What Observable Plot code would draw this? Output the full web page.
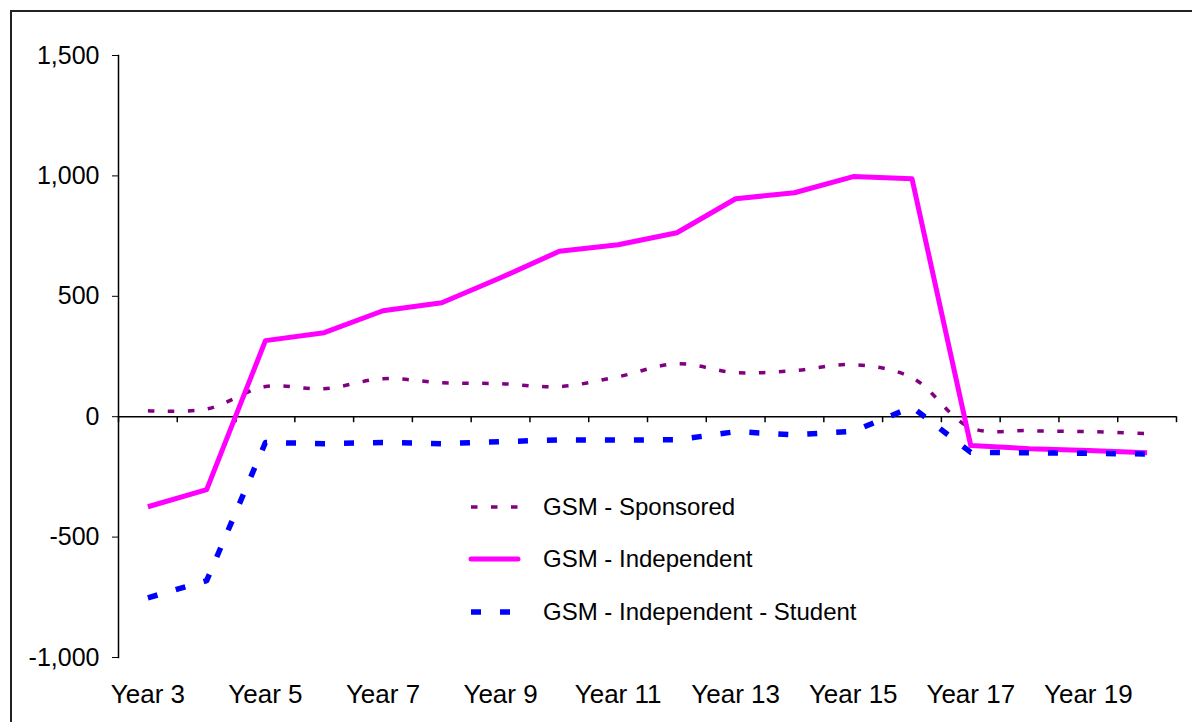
<!DOCTYPE html>
<html>
<head>
<meta charset="utf-8">
<script src="https://cdn.jsdelivr.net/npm/d3@7"></script>
<script src="https://cdn.jsdelivr.net/npm/@observablehq/plot@0.6"></script>
<style>
  html, body { margin: 0; padding: 0; background: #fff; overflow: hidden; }
  #wrap { position: relative; width: 1192px; height: 722px; overflow: hidden; font-family: Arial, "Liberation Sans", sans-serif; }
  #border { position: absolute; left: 10px; top: 10px; width: 1300px; height: 900px; border: 2px solid #222; box-sizing: border-box; pointer-events: none; }
  #chart { position: absolute; left: 0; top: 0; }
  #legend { position: absolute; left: 0; top: 0; }
</style>
</head>
<body>
<div id="wrap">
  <div id="border"></div>
  <div id="chart"></div>
  <svg id="legend" width="1192" height="722"></svg>
</div>
<script>
const categories = ["Year 3","Year 4","Year 5","Year 6","Year 7","Year 8","Year 9","Year 10","Year 11","Year 12","Year 13","Year 14","Year 15","Year 16","Year 17","Year 18","Year 19","Year 20"];
const tickLabels = ["Year 3","Year 5","Year 7","Year 9","Year 11","Year 13","Year 15","Year 17","Year 19"];
const yTicks = [-1000, -500, 0, 500, 1000, 1500];

const seriesNames = ["GSM - Sponsored", "GSM - Independent", "GSM - Independent - Student"];
const sponsored   = [25, 32, 125, 116, 158, 141, 137, 125, 166, 220, 183, 191, 216, 162, -46, -58, -62, -70];
const independent = [-374, -303, 316, 349, 440, 473, 577, 687, 714, 764, 905, 930, 997, 988, -120, -133, -140, -150];
const student     = [-752, -681, -107, -112, -107, -112, -104, -96, -97, -96, -62, -75, -61, 40, -148, -150, -152, -155];

const colors = ["#800080", "#FF00FF", "#0000FF"];
const widths = [3.5, 5, 5.5];
const dashes = ["6.5,13.5", null, "10,19"];
const curves = ["catmull-rom", "linear", "linear"];

const W = 1192, H = 722;
const mL = 118, mR = 16, mT = 55, mB = 65;
const step = (W - mL - mR) / categories.length;

const seriesData = [sponsored, independent, student].map((vals, k) =>
  categories.map((c, i) => ({ cat: c, value: vals[i], series: seriesNames[k] }))
);

const lineMarks = seriesData.map((d, k) =>
  Plot.line(d, {
    x: "cat", y: "value",
    stroke: colors[k], strokeWidth: widths[k],
    strokeDasharray: dashes[k] || undefined,
    curve: curves[k],
    strokeLinecap: "butt", strokeLinejoin: "round"
  })
);

const fmt = d => d.toLocaleString("en-US");

const plot = Plot.plot({
  width: W, height: H,
  marginLeft: mL, marginRight: mR, marginTop: mT, marginBottom: mB,
  style: { fontFamily: "Arial, 'Liberation Sans', sans-serif", fontSize: "25px", background: "transparent", color: "#000" },
  x: { type: "point", domain: categories, padding: 0.5, round: false, label: null },
  y: { domain: [-1000, 1500], label: null },
  marks: [
    Plot.axisY({ ticks: yTicks, tickSize: 6, tickPadding: 13, tickFormat: fmt, fontSize: 25, label: null, stroke: "#000" }),
    Plot.axisX({ ticks: tickLabels, tickSize: 0, tickPadding: 27, fontSize: 26, label: null }),
    Plot.frame({ anchor: "left", stroke: "#000", strokeWidth: 1.5 }),
    Plot.ruleY([0], { stroke: "#000", strokeWidth: 1.5 }),
    Plot.ruleX(categories, { x: d => d, y1: 0, y2: 0, insetBottom: -6, dx: -step / 2, stroke: "#000", strokeWidth: 1.5 }),
    Plot.ruleX([categories[categories.length - 1]], { x: d => d, y1: 0, y2: 0, insetBottom: -6, dx: step / 2, stroke: "#000", strokeWidth: 1.5 }),
    ...lineMarks
  ]
});
document.getElementById("chart").appendChild(plot);

// Legend (inside plot area, as in the reference)
const lg = d3.select("#legend");
const rows = [507, 559, 612];
seriesNames.forEach((name, k) => {
  lg.append("line")
    .attr("x1", 471).attr("x2", 518).attr("y1", rows[k]).attr("y2", rows[k])
    .attr("stroke", colors[k]).attr("stroke-width", widths[k])
    .attr("stroke-dasharray", dashes[k] || null)
    .attr("stroke-linecap", k === 1 ? "round" : "butt");
  lg.append("text")
    .attr("x", 543).attr("y", rows[k]).attr("dy", "0.35em")
    .attr("font-family", "Arial, 'Liberation Sans', sans-serif")
    .attr("font-size", 24).attr("fill", "#000")
    .text(name);
});
</script>
</body>
</html>
